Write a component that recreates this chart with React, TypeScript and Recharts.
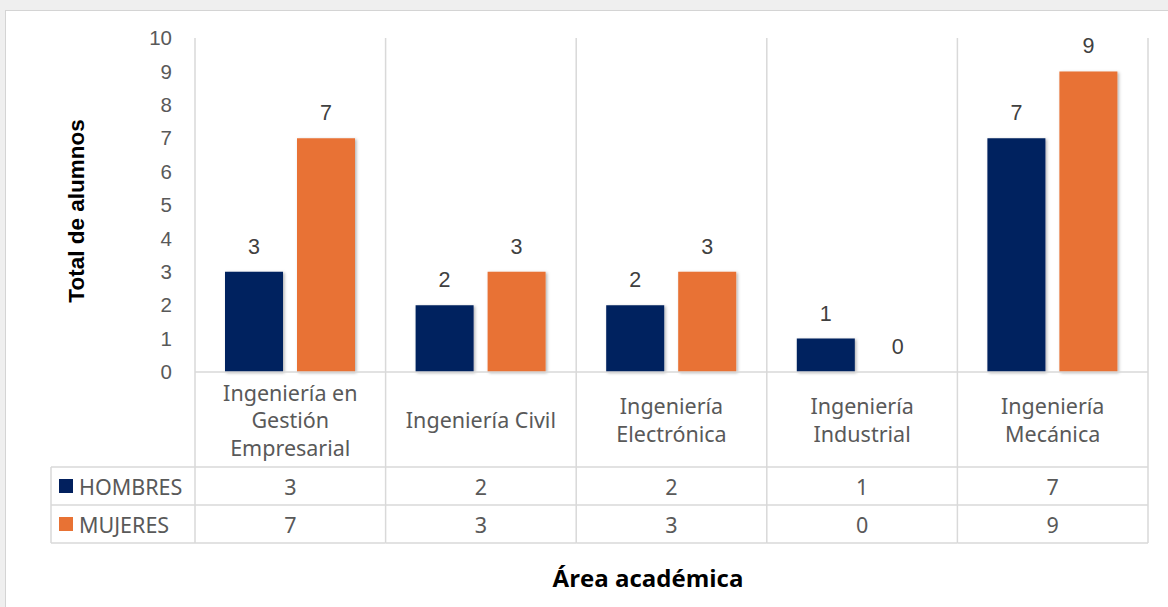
import React from 'react'
import { BarChart, Bar, XAxis, YAxis, CartesianGrid, LabelList, Rectangle } from 'recharts'

const categories = [
  'Ingeniería en Gestión Empresarial',
  'Ingeniería Civil',
  'Ingeniería Electrónica',
  'Ingeniería Industrial',
  'Ingeniería Mecánica',
]
const categoryLines = [
  ['Ingeniería en', 'Gestión', 'Empresarial'],
  ['Ingeniería Civil'],
  ['Ingeniería', 'Electrónica'],
  ['Ingeniería', 'Industrial'],
  ['Ingeniería', 'Mecánica'],
]
const hombres = [3, 2, 2, 1, 7]
const mujeres = [7, 3, 3, 0, 9]
const yTicks = [0, 1, 2, 3, 4, 5, 6, 7, 8, 9, 10]

const series = [
  { key: 'hombres', name: 'HOMBRES', color: '#02205E', values: hombres },
  { key: 'mujeres', name: 'MUJERES', color: '#E87234', values: mujeres },
]

const data = categories.map((c, i) => ({
  name: c,
  idx: i,
  hombres: hombres[i],
  mujeres: mujeres[i],
}))

const W = 1168
const H = 607
const PLOT_LEFT = 195
const PLOT_RIGHT = 1148
const PLOT_TOP = 38
const AXIS_H = 235
const BAND = (PLOT_RIGHT - PLOT_LEFT) / categories.length

// table rows
const ROW_LABEL_BOTTOM = 467
const ROW_H = 38
const LEGEND_LEFT = 51
const GRID = '#d9d9d9'
const TEXT = '#595959'
const LABEL_FONT = '"Noto Sans", sans-serif'
const LABEL_SIZE = 21.5
const NUM_FONT = '"Liberation Sans", Arial, sans-serif'

function TableTick(props: any) {
  const { x, y, payload } = props
  const i = payload.index
  const lines = categoryLines[i]
  const left = x - BAND / 2
  const right = x + BAND / 2
  const tableBottom = ROW_LABEL_BOTTOM + ROW_H * series.length
  const lh = 27.5
  const labelMid = (y + ROW_LABEL_BOTTOM) / 2
  const firstY = labelMid - ((lines.length - 1) * lh) / 2
  return (
    <g>
      <line x1={left} x2={left} y1={y} y2={tableBottom} stroke={GRID} strokeWidth={1.5} />
      {i === categories.length - 1 && (
        <line x1={right} x2={right} y1={y} y2={tableBottom} stroke={GRID} strokeWidth={1.5} />
      )}
      <line x1={left} x2={right} y1={y} y2={y} stroke={GRID} strokeWidth={1.5} />
      {lines.map((t, k) => (
        <text
          key={k}
          x={x}
          y={firstY + k * lh}
          textAnchor="middle"
          dominantBaseline="central"
          fill={TEXT}
          fontSize={LABEL_SIZE}
          fontFamily={LABEL_FONT}
        >
          {t}
        </text>
      ))}
      {series.map((s, r) => {
        const top = ROW_LABEL_BOTTOM + r * ROW_H
        return (
          <g key={s.key}>
            <line x1={left} x2={right} y1={top} y2={top} stroke={GRID} strokeWidth={1.5} />
            <text
              x={x}
              y={top + ROW_H / 2}
              textAnchor="middle"
              dominantBaseline="central"
              fill={TEXT}
              fontSize={LABEL_SIZE}
              fontFamily={LABEL_FONT}
            >
              {s.values[i]}
            </text>
          </g>
        )
      })}
      <line x1={left} x2={right} y1={tableBottom} y2={tableBottom} stroke={GRID} strokeWidth={1.5} />
      {i === 0 && (
        <g>
          <line x1={LEGEND_LEFT} x2={LEGEND_LEFT} y1={ROW_LABEL_BOTTOM} y2={tableBottom} stroke={GRID} strokeWidth={1.5} />
          {series.map((s, r) => {
            const top = ROW_LABEL_BOTTOM + r * ROW_H
            return (
              <g key={s.key}>
                <line x1={LEGEND_LEFT} x2={left} y1={top} y2={top} stroke={GRID} strokeWidth={1.5} />
                <rect x={59} y={top + ROW_H / 2 - 7} width={14} height={14} fill={s.color} />
                <text
                  x={79}
                  y={top + ROW_H / 2}
                  dominantBaseline="central"
                  fill={TEXT}
                  fontSize={LABEL_SIZE}
                  fontFamily={LABEL_FONT}
                >
                  {s.name}
                </text>
              </g>
            )
          })}
          <line x1={LEGEND_LEFT} x2={left} y1={tableBottom} y2={tableBottom} stroke={GRID} strokeWidth={1.5} />
        </g>
      )}
    </g>
  )
}

const ShadowBar = (props: any) => <Rectangle {...props} filter="url(#barShadow)" />

export default function App() {
  return (
    <div style={{ position: 'absolute', left: 0, top: 0, width: W, height: H, background: '#efefef', overflow: 'hidden' }}>
      <div
        style={{
          position: 'absolute',
          left: 5,
          top: 10,
          width: W,
          height: H,
          background: '#ffffff',
          border: '1px solid #d4d4d4',
        }}
      />
      <div style={{ position: 'absolute', left: 0, top: 0 }}>
        <BarChart
          width={W}
          height={H}
          data={data}
          margin={{ top: PLOT_TOP, right: W - PLOT_RIGHT, left: 0, bottom: 0 }}
          barSize={58}
          barGap={14}
        >
          <defs>
            <filter id="barShadow" x="-20%" y="-20%" width="140%" height="140%">
              <feDropShadow dx={1.5} dy={1} stdDeviation={1.5} floodColor="#000" floodOpacity={0.3} />
            </filter>
          </defs>
          <CartesianGrid
            horizontal={false}
            stroke={GRID}
            strokeWidth={1.5}
            verticalCoordinatesGenerator={({ offset }: any) =>
              categories.map((_, i) => offset.left + (i * offset.width) / categories.length).concat([offset.left + offset.width])
            }
          />
          <XAxis
            dataKey="name"
            height={AXIS_H}
            axisLine={false}
            tickLine={false}
            tickSize={0}
            tickMargin={0}
            interval={0}
            tick={<TableTick />}
            label={{
              content: () => (
                <text
                  x={648}
                  y={577}
                  textAnchor="middle"
                  dominantBaseline="central"
                  fontSize={24}
                  fontWeight={700}
                  fill="#000"
                  fontFamily='"Open Sans", sans-serif'
                >
                  Área académica
                </text>
              ),
            }}
          />
          <YAxis
            width={PLOT_LEFT}
            domain={[0, 10]}
            ticks={yTicks}
            interval={0}
            axisLine={false}
            tickLine={false}
            tickSize={0}
            tickMargin={23}
            tick={{ fill: TEXT, fontSize: 20.5, fontFamily: NUM_FONT }}
            label={{
              content: () => (
                <text
                  x={76}
                  y={211}
                  transform="rotate(-90 76 211)"
                  textAnchor="middle"
                  dominantBaseline="central"
                  fontSize={22.5}
                  fontWeight={700}
                  fill="#000"
                  fontFamily={NUM_FONT}
                >
                  Total de alumnos
                </text>
              ),
            }}
          />
          {series.map((s) => (
            <Bar key={s.key} dataKey={s.key} name={s.name} fill={s.color} isAnimationActive={false} shape={ShadowBar}>
              <LabelList dataKey={s.key} position="top" offset={18} fill="#404040" fontSize={21.5} fontFamily={NUM_FONT} />
            </Bar>
          ))}
        </BarChart>
      </div>
    </div>
  )
}
